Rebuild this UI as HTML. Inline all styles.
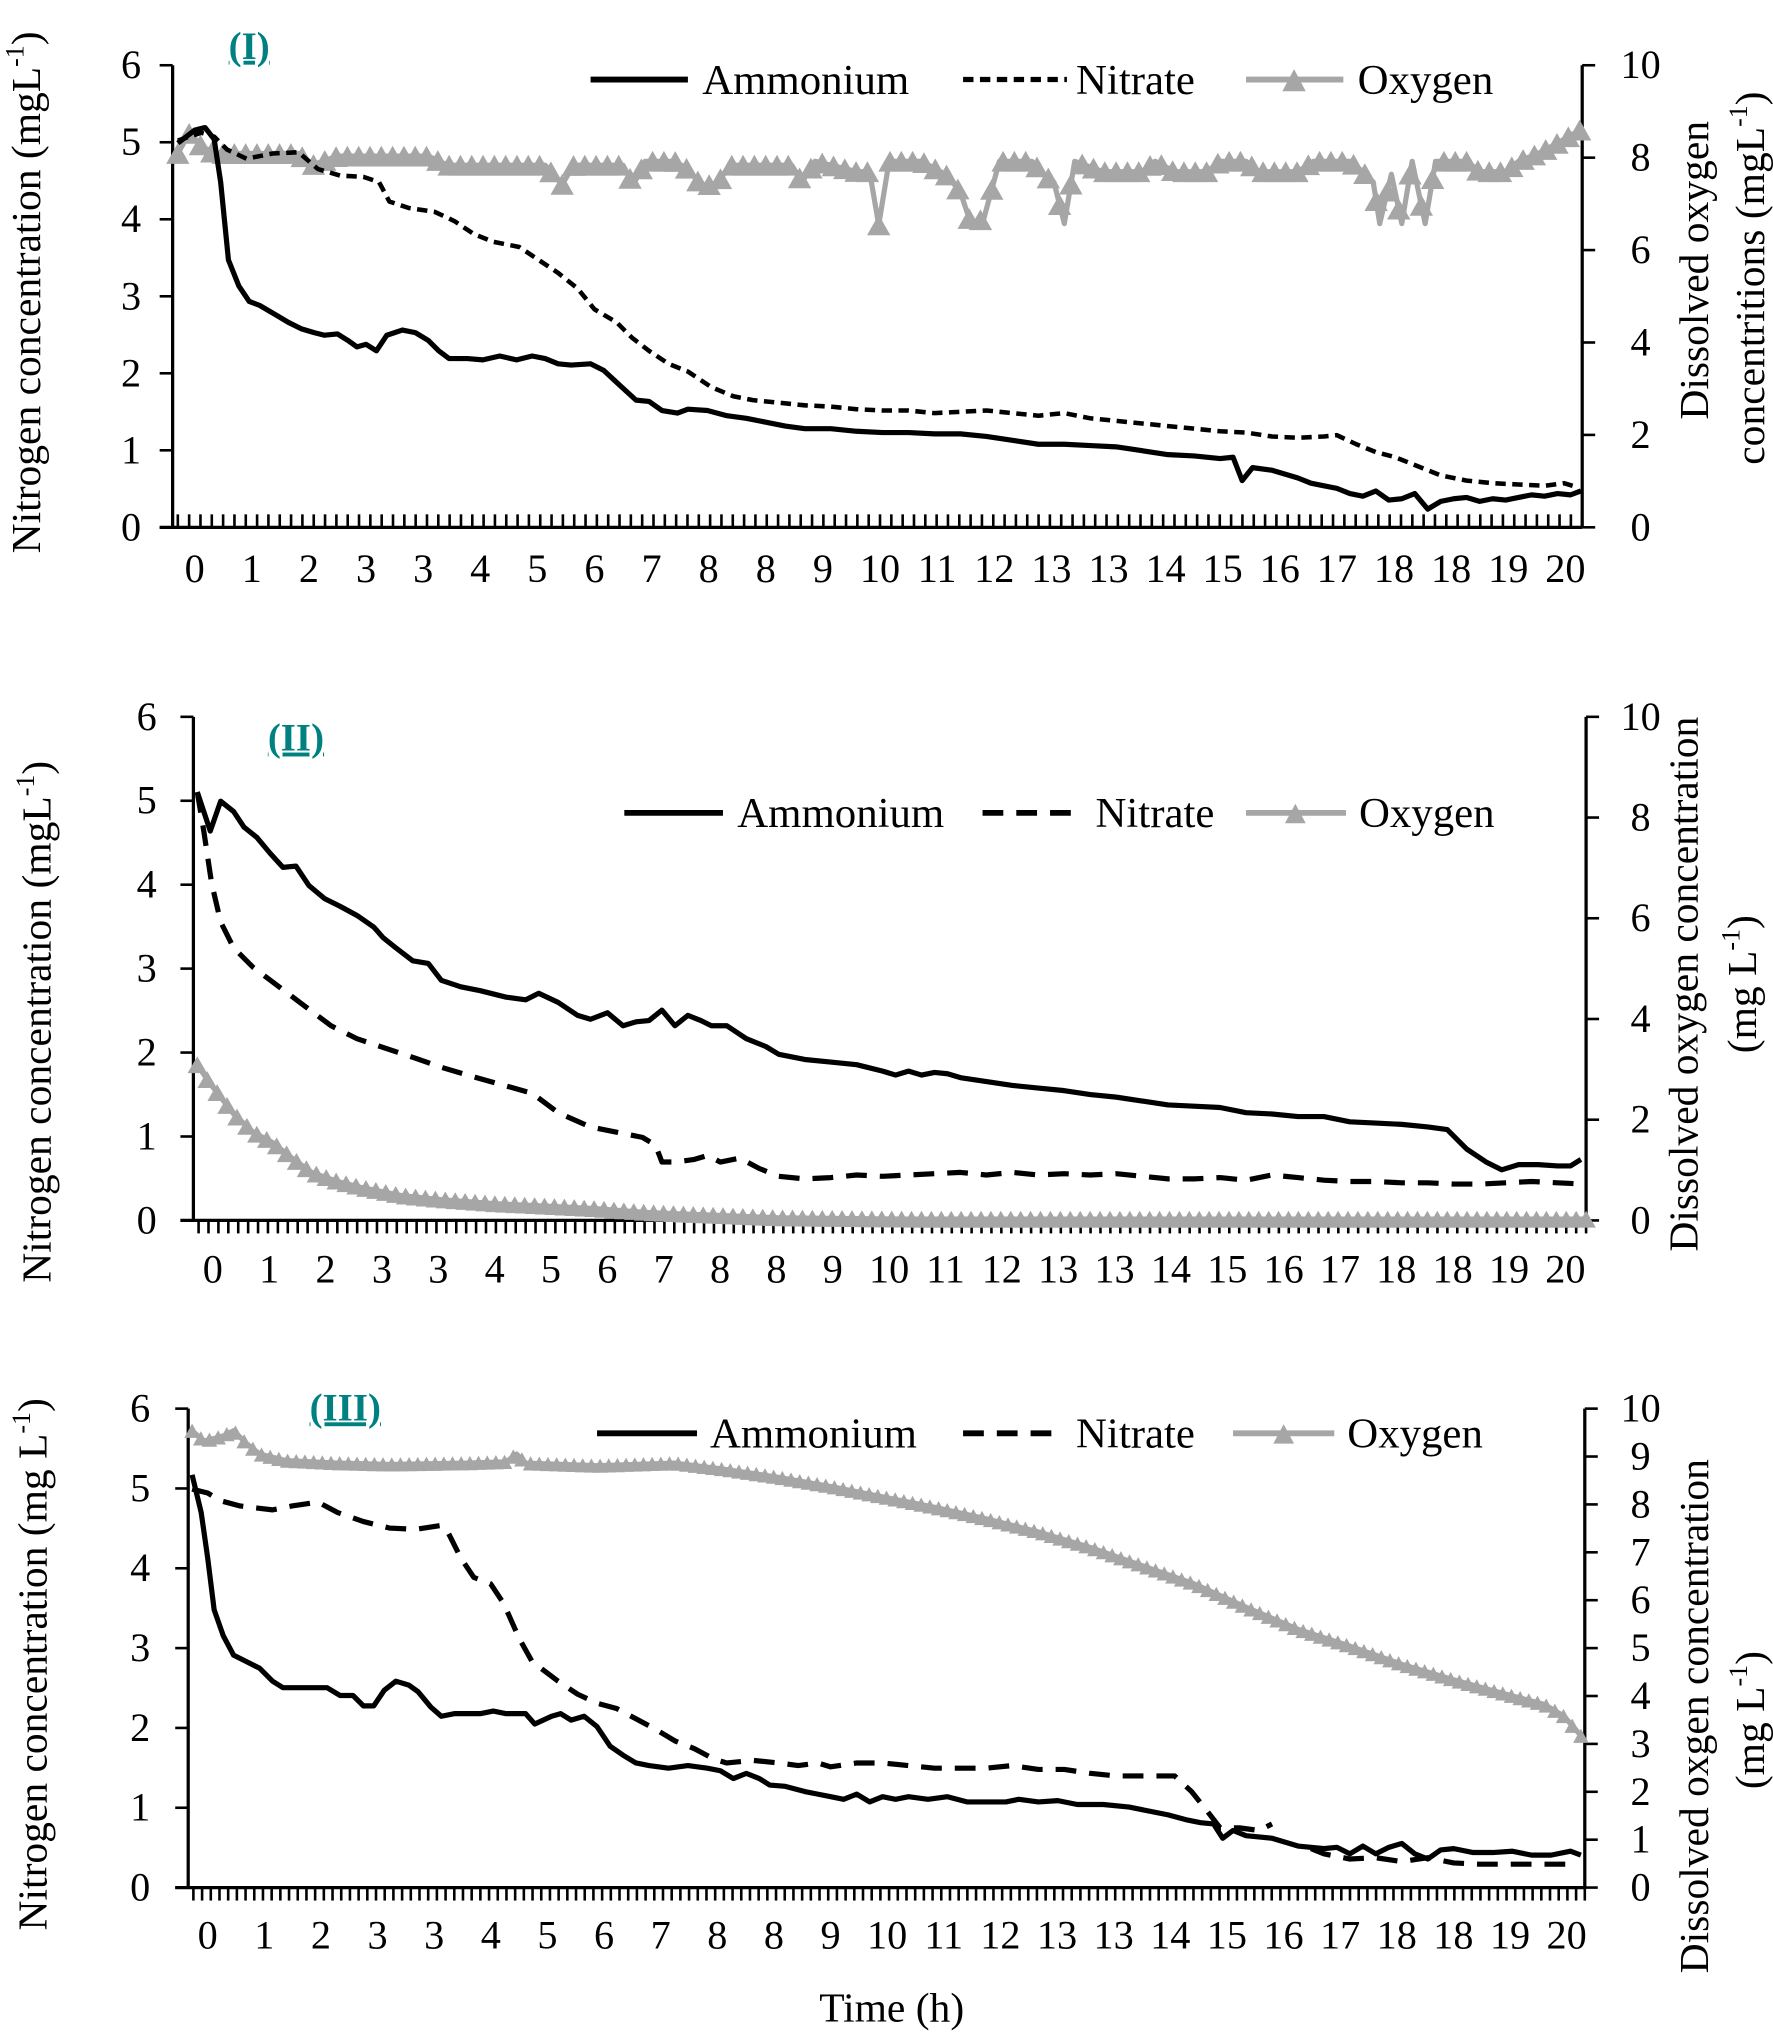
<!DOCTYPE html>
<html><head><meta charset="utf-8"><style>
html,body{margin:0;padding:0;background:#fff}
svg{display:block}
text{font-family:"Liberation Serif","Times New Roman",serif;fill:#000}
</style></head><body>
<svg id="s" width="1773" height="2032" viewBox="0 0 1366 1565" xmlns="http://www.w3.org/2000/svg" font-family="Liberation Serif, serif">
<g id="g"></g>
<g font-family="Liberation Serif, serif">
<text x="192" y="45" font-size="30" font-weight="bold" text-anchor="middle" style="fill:#008080" text-decoration="underline">(I)</text>
<text x="228" y="578" font-size="30" font-weight="bold" text-anchor="middle" style="fill:#008080" text-decoration="underline">(II)</text>
<text x="266" y="1094" font-size="30" font-weight="bold" text-anchor="middle" style="fill:#008080" text-decoration="underline">(III)</text>
</g>
<g font-size="33" font-family="Liberation Serif, serif">
<line x1="455" y1="61" x2="530" y2="61" stroke="#000" stroke-width="4.5"/><text x="541" y="72">Ammonium</text>
<line x1="742" y1="61" x2="822" y2="61" stroke="#000" stroke-width="4" stroke-dasharray="8 5"/><text x="829" y="72">Nitrate</text>
<line x1="960" y1="61" x2="1035" y2="61" stroke="#a6a6a6" stroke-width="4.5"/><polygon points="988,70 1006,70 997,53" fill="#a6a6a6"/><text x="1046" y="72">Oxygen</text>

<line x1="481" y1="626" x2="557" y2="626" stroke="#000" stroke-width="4.5"/><text x="568" y="637">Ammonium</text>
<line x1="757" y1="626" x2="835" y2="626" stroke="#000" stroke-width="4.5" stroke-dasharray="16 10"/><text x="844" y="637">Nitrate</text>
<line x1="960" y1="626" x2="1037" y2="626" stroke="#a6a6a6" stroke-width="4.5"/><polygon points="990,634 1006,634 998,619" fill="#a6a6a6"/><text x="1047" y="637">Oxygen</text>

<line x1="460" y1="1104" x2="537" y2="1104" stroke="#000" stroke-width="4.5"/><text x="547" y="1115">Ammonium</text>
<line x1="742" y1="1104" x2="820" y2="1104" stroke="#000" stroke-width="4.5" stroke-dasharray="16 10"/><text x="829" y="1115">Nitrate</text>
<line x1="950" y1="1104" x2="1028" y2="1104" stroke="#a6a6a6" stroke-width="4.5"/><polygon points="981,1112 997,1112 989,1097" fill="#a6a6a6"/><text x="1038" y="1115">Oxygen</text>
</g>
<g font-size="32" font-family="Liberation Serif, serif">
<text transform="translate(31,225) rotate(-90)" text-anchor="middle">Nitrogen concentration (mgL<tspan font-size="20" dy="-13">-1</tspan><tspan dy="13">)</tspan></text>
<text transform="translate(39,787) rotate(-90)" text-anchor="middle">Nitrogen concentration (mgL<tspan font-size="20" dy="-13">-1</tspan><tspan dy="13">)</tspan></text>
<text transform="translate(36,1282) rotate(-90)" text-anchor="middle">Nitrogen concentration (mg  L<tspan font-size="20" dy="-13">-1</tspan><tspan dy="13">)</tspan></text>

<text transform="translate(1316,208) rotate(-90)" text-anchor="middle">Dissolved oxygen</text>
<text transform="translate(1359,214) rotate(-90)" text-anchor="middle">concentritions (mgL<tspan font-size="20" dy="-13">-1</tspan><tspan dy="13">)</tspan></text>

<text transform="translate(1308,758) rotate(-90)" text-anchor="middle">Dissolved oxygen concentration</text>
<text transform="translate(1353,758) rotate(-90)" text-anchor="middle">(mg L<tspan font-size="20" dy="-13">-1</tspan><tspan dy="13">)</tspan></text>

<text transform="translate(1316,1322) rotate(-90)" text-anchor="middle">Dissolved oxgen concentration</text>
<text transform="translate(1359,1325) rotate(-90)" text-anchor="middle">(mg L<tspan font-size="20" dy="-13">-1</tspan><tspan dy="13">)</tspan></text>

<text x="687" y="1557" text-anchor="middle">Time (h)</text>
</g>
<g id="labels" font-size="31" font-family="Liberation Serif, serif"></g>
</svg>
<script>
var NS="http://www.w3.org/2000/svg",G=document.getElementById('g'),L=document.getElementById('labels');
function el(t,a,p){var e=document.createElementNS(NS,t);for(var k in a)e.setAttribute(k,a[k]);(p||G).appendChild(e);return e;}
function txt(x,y,s,anc){var e=el('text',{x:x,y:y,'text-anchor':anc||'middle'},L);e.textContent=s;}
var xl=["0","1","2","3","3","4","5","6","7","8","8","9","10","11","12","13","13","14","15","16","17","18","18","19","20"];
var P=[
 {l:133,r:1219,t:50,b:406,tickUp:true,x0:150,x1:1206,ly:448,lx:101,rx:1264,rstep:2,ms:9,mh:16,n:124},
 {l:149,r:1222,t:552,b:940,tickUp:false,x0:164,x1:1206,ly:988,lx:113,rx:1264,rstep:2,ms:7.5,mh:13,n:140},
 {l:145,r:1221,t:1085,b:1454,tickUp:false,x0:160,x1:1207,ly:1501,lx:108,rx:1264,rstep:1,ms:6,mh:11,n:160}
];
P.forEach(function(p){
 el('line',{x1:p.l,y1:p.t,x2:p.l,y2:p.b,stroke:'#000','stroke-width':2.5});
 el('line',{x1:p.r,y1:p.t,x2:p.r,y2:p.b,stroke:'#000','stroke-width':2.5});
 el('line',{x1:p.l-10,y1:p.b,x2:p.r,y2:p.b,stroke:'#000','stroke-width':2.5});
 for(var i=0;i<=6;i++){var y=p.b-(p.b-p.t)*i/6;el('line',{x1:p.l-10,y1:y,x2:p.l,y2:y,stroke:'#000','stroke-width':2});txt(p.lx,y+10,""+i);}
 for(var v=0;v<=10;v+=p.rstep){var y=p.b-(p.b-p.t)*v/10;el('line',{x1:p.r,y1:y,x2:p.r+10,y2:y,stroke:'#000','stroke-width':2});txt(p.rx,y+10,""+v,'middle');}
 var n=p.n;for(var i=0;i<=n;i++){var x=p.l+4+(p.r-p.l-4)*i/n;el('line',{x1:x,y1:p.b,x2:x,y2:p.tickUp?p.b-10:p.b+10,stroke:'#000','stroke-width':2});}
 for(var i=0;i<25;i++){txt(p.x0+(p.x1-p.x0)*i/24,p.ly,xl[i]);}
});
function line(pts,opt){el('polyline',{points:pts.map(function(q){return q.join(',')}).join(' '),fill:'none',stroke:opt.c||'#000','stroke-width':opt.w||4,'stroke-dasharray':opt.d||'none','stroke-linejoin':'round'});}
function interp(pts,x){for(var i=1;i<pts.length;i++){if(x<=pts[i][0]){var a=pts[i-1],b=pts[i];var f=(x-a[0])/((b[0]-a[0])||1);return a[1]+f*(b[1]-a[1]);}}return pts[pts.length-1][1];}
function oxy(pts,p){line(pts,{c:'#a6a6a6',w:4});var x0=pts[0][0],x1=pts[pts.length-1][0],n=p.n;for(var i=0;i<=n;i++){var x=x0+(x1-x0)*i/n,y=interp(pts,x);el('polygon',{points:(x-p.ms)+','+(y+p.mh/2)+' '+(x+p.ms)+','+(y+p.mh/2)+' '+x+','+(y-p.mh/2),fill:'#a6a6a6'});}}
oxy([[137,118],[146,102],[155,112],[165,118],[230,118],[240,127],[260,120],[330,120],[345,127],[420,127],[433,142],[442,127],[480,127],[488,142],[497,124],[520,124],[530,130],[540,142],[552,142],[562,127],[610,127],[618,140],[628,124],[660,132],[670,132],[677,173],[685,124],[710,124],[730,135],[740,148],[748,172],[758,168],[770,124],[795,124],[805,135],[812,140],[820,172],[828,124],[850,132],[880,132],[890,124],[905,132],[930,132],[940,124],[960,124],[970,132],[1000,132],[1012,124],[1040,124],[1050,132],[1058,140],[1063,172],[1072,134],[1080,172],[1088,124],[1098,172],[1106,124],[1130,124],[1140,132],[1160,132],[1170,124],[1185,118],[1200,110],[1217,100]],P[0]);
line([[137,108],[155,102],[165,105],[175,115],[190,122],[210,118],[230,117],[245,130],[262,135],[280,136],[292,140],[300,155],[315,160],[335,163],[350,170],[365,180],[380,186],[400,190],[415,200],[430,210],[445,222],[458,238],[475,248],[487,260],[500,270],[515,280],[530,286],[548,298],[565,305],[580,308],[600,310],[620,312],[640,313],[660,315],[680,316],[700,316],[720,318],[740,317],[760,316],[780,318],[800,320],[820,318],[840,322],[860,324],[880,326],[900,328],[920,330],[940,332],[960,333],[980,336],[1000,337],[1020,336],[1030,335],[1045,342],[1060,348],[1075,352],[1090,358],[1110,366],[1130,370],[1150,372],[1170,373],[1190,374],[1205,372],[1215,375]],{d:'8 5',w:3.5});
line([[137,110],[150,100],[158,98],[165,107],[170,140],[176,200],[184,220],[192,232],[200,235],[212,242],[222,248],[232,253],[242,256],[250,258],[260,257],[268,262],[275,267],[282,265],[290,270],[298,258],[310,254],[320,256],[330,262],[338,270],[346,276],[360,276],[372,277],[385,274],[398,277],[410,274],[420,276],[430,280],[440,281],[455,280],[465,285],[478,297],[490,308],[500,309],[510,316],[522,318],[530,315],[545,316],[560,320],[575,322],[590,325],[605,328],[620,330],[640,330],[660,332],[680,333],[700,333],[720,334],[740,334],[760,336],[780,339],[800,342],[820,342],[840,343],[860,344],[880,347],[900,350],[920,351],[940,353],[950,352],[957,370],[965,360],[980,362],[990,365],[1000,368],[1010,372],[1020,374],[1030,376],[1040,380],[1050,382],[1060,378],[1070,385],[1080,384],[1090,380],[1100,392],[1110,386],[1120,384],[1130,383],[1140,386],[1150,384],[1160,385],[1170,383],[1180,381],[1190,382],[1200,380],[1210,381],[1218,378]],{});
oxy([[152,820],[160,832],[170,845],[180,858],[195,872],[210,880],[225,892],[240,903],[260,910],[280,915],[310,921],[340,924],[380,927],[420,929],[460,931],[500,934],[550,936],[600,938],[700,939],[800,939],[1222,939]],P[1]);
line([[152,610],[157,640],[163,680],[170,710],[180,730],[195,745],[215,760],[235,775],[255,790],[275,800],[290,805],[305,810],[320,815],[340,822],[360,828],[385,835],[410,842],[430,857],[455,868],[475,872],[495,876],[505,882],[510,895],[520,895],[535,893],[545,890],[555,895],[570,892],[585,900],[600,906],[620,908],[640,907],[660,905],[680,906],[700,905],[720,904],[740,903],[760,905],[780,903],[800,905],[820,904],[840,905],[860,904],[880,906],[900,908],[920,908],[940,907],[960,909],[980,905],[1000,907],[1020,909],[1040,910],[1060,910],[1080,911],[1100,911],[1120,912],[1140,912],[1160,911],[1180,910],[1200,911],[1220,912]],{d:'16 10'});
line([[152,610],[157,625],[162,640],[170,617],[180,625],[188,637],[198,645],[208,657],[218,668],[228,667],[238,682],[250,692],[262,698],[275,705],[288,714],[295,722],[305,730],[318,740],[330,742],[340,755],[355,760],[370,763],[390,768],[405,770],[415,765],[430,772],[445,782],[455,785],[468,780],[480,790],[490,787],[500,786],[510,778],[520,790],[530,782],[540,786],[548,790],[560,790],[575,800],[590,806],[600,812],[620,816],[640,818],[660,820],[680,825],[690,828],[700,825],[710,828],[720,826],[730,827],[740,830],[760,833],[780,836],[800,838],[820,840],[840,843],[860,845],[880,848],[900,851],[920,852],[940,853],[960,857],[980,858],[1000,860],[1020,860],[1040,864],[1060,865],[1080,866],[1100,868],[1115,870],[1130,885],[1145,895],[1157,901],[1170,897],[1185,897],[1200,898],[1210,898],[1218,893]],{});
oxy([[148,1102],[157,1110],[165,1108],[172,1106],[180,1102],[190,1112],[200,1120],[220,1125],[260,1127],[300,1128],[360,1127],[390,1126],[398,1120],[405,1127],[460,1129],[520,1127],[560,1132],[600,1138],[640,1145],[680,1153],[720,1161],[760,1170],[800,1180],[840,1192],[880,1206],[920,1220],[960,1238],[1000,1255],[1040,1268],[1080,1282],[1120,1294],[1160,1305],[1190,1313],[1205,1322],[1218,1337]],P[2]);
line([[148,1147],[160,1150],[170,1156],[185,1160],[210,1163],[225,1160],[245,1157],[260,1165],[280,1172],[300,1177],[320,1178],[340,1175],[345,1180],[355,1200],[365,1215],[378,1220],[388,1235],[400,1262],[410,1280],[430,1295],[445,1305],[460,1312],[475,1316],[490,1324],[505,1332],[520,1341],[535,1347],[550,1355],[560,1358],[580,1356],[600,1358],[615,1360],[630,1358],[640,1361],[660,1358],[680,1358],[700,1360],[720,1362],[740,1362],[760,1362],[780,1360],[800,1363],[820,1363],[840,1366],[860,1368],[880,1368],[905,1368],[918,1380],[930,1395],[940,1408],[955,1408],[970,1410],[980,1405]],{d:'16 10'});
line([[1010,1424],[1020,1428],[1040,1432],[1060,1431],[1080,1434],[1100,1431],[1120,1435],[1140,1436],[1160,1436],[1180,1436],[1200,1436],[1215,1436]],{d:'16 10'});
line([[148,1136],[155,1165],[160,1200],[165,1240],[172,1260],[180,1275],[190,1280],[200,1285],[210,1295],[218,1300],[235,1300],[252,1300],[262,1306],[272,1306],[280,1314],[288,1314],[296,1302],[305,1295],[315,1298],[322,1303],[332,1315],[340,1322],[350,1320],[360,1320],[370,1320],[380,1318],[390,1320],[405,1320],[412,1328],[425,1322],[432,1320],[440,1325],[450,1322],[460,1330],[470,1345],[480,1352],[490,1358],[500,1360],[515,1362],[530,1360],[545,1362],[555,1364],[565,1370],[575,1366],[585,1370],[593,1375],[605,1376],[620,1380],[630,1382],[640,1384],[650,1386],[660,1382],[670,1388],[680,1384],[690,1386],[700,1384],[715,1386],[730,1384],[745,1388],[760,1388],[775,1388],[785,1386],[800,1388],[815,1387],[830,1390],[850,1390],[870,1392],[880,1394],[900,1398],[915,1402],[925,1404],[935,1405],[942,1416],[950,1410],[960,1414],[980,1416],[1000,1422],[1020,1424],[1030,1423],[1040,1428],[1050,1422],[1060,1428],[1070,1423],[1080,1420],[1090,1428],[1100,1432],[1110,1425],[1120,1424],[1135,1427],[1150,1427],[1165,1426],[1180,1429],[1195,1429],[1210,1426],[1218,1429]],{});
</script>
</body></html>
